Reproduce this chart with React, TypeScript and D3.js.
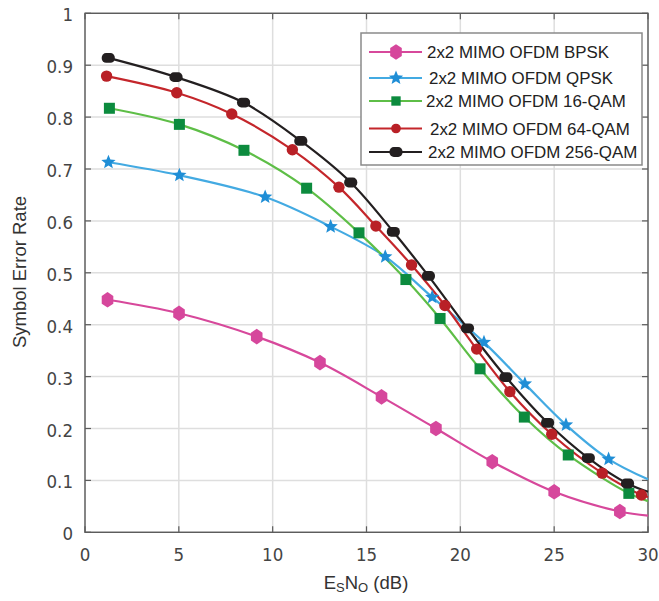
import React from "react";
import * as d3 from "d3";

const xTicks = [0, 5, 10, 15, 20, 25, 30];
const yTicks = [0, 0.1, 0.2, 0.3, 0.4, 0.5, 0.6, 0.7, 0.8, 0.9, 1];
const yTickLabels = ["0", "0.1", "0.2", "0.3", "0.4", "0.5", "0.6", "0.7", "0.8", "0.9", "1"];

const seriesNames = [
  "2x2 MIMO OFDM BPSK",
  "2x2 MIMO OFDM QPSK",
  "2x2 MIMO OFDM 16-QAM",
  "2x2 MIMO OFDM 64-QAM",
  "2x2 MIMO OFDM 256-QAM",
];

const bpskX = [1.2, 5.01, 9.15, 12.52, 15.8, 18.7, 21.7, 25.0, 28.5];
const bpskY = [0.448, 0.422, 0.377, 0.327, 0.261, 0.2, 0.136, 0.078, 0.04];
const qpskX = [1.25, 5.03, 9.6, 13.09, 16.0, 18.5, 21.26, 23.44, 25.63, 27.9];
const qpskY = [0.713, 0.688, 0.646, 0.589, 0.531, 0.453, 0.366, 0.286, 0.207, 0.141];
const qam16X = [1.3, 5.03, 8.47, 11.81, 14.6, 17.1, 18.92, 21.05, 23.41, 25.75, 28.98];
const qam16Y = [0.817, 0.786, 0.736, 0.663, 0.577, 0.487, 0.412, 0.315, 0.222, 0.149, 0.075];
const qam64X = [1.15, 4.89, 7.82, 11.05, 13.53, 15.5, 17.4, 19.18, 20.87, 22.64, 24.87, 27.56, 29.65];
const qam64Y = [0.879, 0.847, 0.806, 0.737, 0.665, 0.59, 0.515, 0.437, 0.353, 0.271, 0.189, 0.114, 0.072];
const qam256X = [1.24, 4.85, 8.45, 11.5, 14.16, 16.43, 18.3, 20.38, 22.43, 24.65, 26.82, 28.91];
const qam256Y = [0.914, 0.877, 0.828, 0.754, 0.674, 0.579, 0.494, 0.393, 0.299, 0.211, 0.143, 0.094];

// value of each curve where it reaches the right edge (x = 30), no marker there
const curveEndX = 30;
const curveEndY = [0.032, 0.102, 0.06, 0.068, 0.078];

const lineColors = ["#D7489B", "#43AAE2", "#5EBE47", "#C4262B", "#231F20"];
const markerColors = ["#D6479C", "#1F8ED6", "#0C8B3E", "#B92026", "#231F20"];
const markerKinds = ["hexagon", "star", "square", "circle", "pill"];

const W = 659;
const H = 601;
const L = 85, R = 648, T = 13.3, B = 532.3;

const tickFont = "'Liberation Sans Narrow', 'Arial Narrow', 'DejaVu Sans Condensed', sans-serif";
const labelFont = "'Liberation Sans', Arial, sans-serif";

function Marker({ kind, cx, cy, color, s = 1 }: { kind: string; cx: number; cy: number; color: string; s?: number }) {
  if (kind === "hexagon") {
    const w = 5.8 * s, h = 7.8 * s;
    const pts = [
      [0, -h], [w, -h / 2], [w, h / 2], [0, h], [-w, h / 2], [-w, -h / 2],
    ].map(([a, b]) => `${cx + a},${cy + b}`).join(" ");
    return <polygon points={pts} fill={color} />;
  }
  if (kind === "star") {
    const ro = 7.5 * s, ri = 3.3 * s;
    const pts: string[] = [];
    for (let i = 0; i < 10; i++) {
      const r = i % 2 === 0 ? ro : ri;
      const a = -Math.PI / 2 + (i * Math.PI) / 5;
      pts.push(`${cx + r * Math.cos(a)},${cy + r * Math.sin(a)}`);
    }
    return <polygon points={pts.join(" ")} fill={color} />;
  }
  if (kind === "square") {
    const a = 5.5 * s;
    return <rect x={cx - a} y={cy - a} width={2 * a} height={2 * a} fill={color} />;
  }
  if (kind === "circle") {
    return <circle cx={cx} cy={cy} r={5.7 * s} fill={color} />;
  }
  const w = 6.6 * s, h = 4.9 * s;
  return <rect x={cx - w} y={cy - h} width={2 * w} height={2 * h} rx={h * 0.9} ry={h} fill={color} />;
}

export default function App() {
  const x = d3.scaleLinear().domain([0, 30]).range([L, R]);
  const y = d3.scaleLinear().domain([0, 1]).range([B, T]);

  const allX = [bpskX, qpskX, qam16X, qam64X, qam256X];
  const allY = [bpskY, qpskY, qam16Y, qam64Y, qam256Y];

  const line = d3
    .line<[number, number]>()
    .x((d) => x(d[0]))
    .y((d) => y(d[1]))
    .curve(d3.curveCatmullRom.alpha(0.5));

  const legendRows = [52, 78, 101, 128.5, 152];
  const legendTextX = [427, 429, 426, 430, 428];

  return (
    <svg width={W} height={H} style={{ position: "absolute", left: 0, top: 0, background: "#fff" }}>
      <rect x={0} y={0} width={W} height={H} fill="#fff" />
      {/* grid */}
      {xTicks.map((t) => (
        <line key={"gx" + t} x1={x(t)} x2={x(t)} y1={T} y2={B} stroke="#dedede" strokeWidth={1.5} />
      ))}
      {yTicks.map((t) => (
        <line key={"gy" + t} x1={L} x2={R} y1={y(t)} y2={y(t)} stroke="#dedede" strokeWidth={1.5} />
      ))}
      {/* box */}
      <rect x={L} y={T} width={R - L} height={B - T} fill="none" stroke="#5c5c5c" strokeWidth={1.4} />
      {/* ticks */}
      {xTicks.map((t) => (
        <g key={"tx" + t}>
          <line x1={x(t)} x2={x(t)} y1={B} y2={B - 6} stroke="#5c5c5c" strokeWidth={1.2} />
          <line x1={x(t)} x2={x(t)} y1={T} y2={T + 6} stroke="#5c5c5c" strokeWidth={1.2} />
          <text x={x(t)} y={561} textAnchor="middle" fontFamily={tickFont} fontSize={18.5} fill="#444">
            {t}
          </text>
        </g>
      ))}
      {yTicks.map((t, i) => (
        <g key={"ty" + t}>
          <line x1={L} x2={L + 6} y1={y(t)} y2={y(t)} stroke="#5c5c5c" strokeWidth={1.2} />
          <line x1={R} x2={R - 6} y1={y(t)} y2={y(t)} stroke="#5c5c5c" strokeWidth={1.2} />
          <text x={73} y={y(t) + 8} textAnchor="end" fontFamily={tickFont} fontSize={18.5} fill="#444">
            {yTickLabels[i]}
          </text>
        </g>
      ))}
      {/* curves */}
      {allX.map((xs, si) => {
        const pts: [number, number][] = xs.map((v, i) => [v, allY[si][i]]);
        pts.push([curveEndX, curveEndY[si]]);
        return (
          <path key={"l" + si} d={line(pts) || ""} fill="none" stroke={lineColors[si]} strokeWidth={2.2} />
        );
      })}
      {allX.map((xs, si) =>
        xs.map((v, i) => (
          <Marker key={"m" + si + "-" + i} kind={markerKinds[si]} cx={x(v)} cy={y(allY[si][i])} color={markerColors[si]} />
        ))
      )}
      {/* legend */}
      <rect x={361} y={33} width={281} height={132} fill="#fff" stroke="#8a8a8a" strokeWidth={1.5} />
      {seriesNames.map((name, i) => (
        <g key={"lg" + i}>
          <line x1={369} x2={422} y1={legendRows[i]} y2={legendRows[i]} stroke={lineColors[i]} strokeWidth={2.2} />
          <Marker kind={markerKinds[i]} cx={396} cy={legendRows[i]} color={markerColors[i]} s={i === 2 || i === 3 ? 0.85 : 1} />
          <text x={legendTextX[i]} y={legendRows[i] + 6} fontFamily={labelFont} fontSize={16.9} fill="#222">
            {name}
          </text>
        </g>
      ))}
      {/* axis labels */}
      <text
        transform="translate(26,272) rotate(-90)"
        textAnchor="middle"
        fontFamily={labelFont}
        fontSize={18.5}
        fill="#333"
      >
        Symbol Error Rate
      </text>
      <text x={366} y={589} textAnchor="middle" fontFamily={labelFont} fontSize={18.5} fill="#333">
        E<tspan fontSize={13} dy={3}>S</tspan>
        <tspan dy={-3}>N</tspan>
        <tspan fontSize={13} dy={3}>O</tspan>
        <tspan dy={-3}> (dB)</tspan>
      </text>
    </svg>
  );
}
